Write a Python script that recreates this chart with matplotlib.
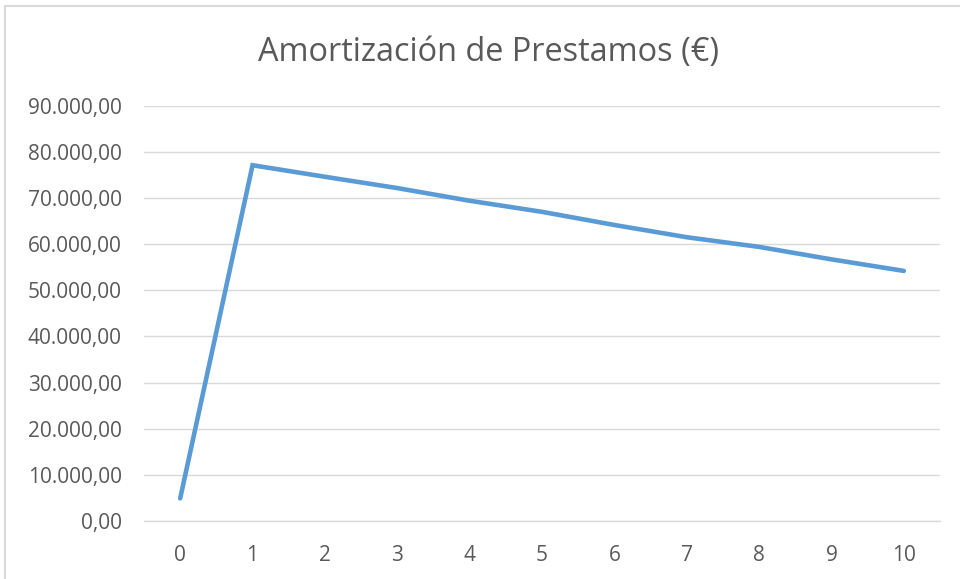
import matplotlib
matplotlib.use("Agg")
import matplotlib.pyplot as plt
from matplotlib.patches import Rectangle
from matplotlib.ticker import FuncFormatter, MultipleLocator

periods = [0, 1, 2, 3, 4, 5, 6, 7, 8, 9, 10]
saldo = [4900, 77100, 74600, 72150, 69400, 67000, 64150, 61500, 59400, 56700, 54200]
title = "Amortización de Prestamos (€)"

plt.rcParams['font.family'] = ['Open Sans', 'DejaVu Sans']

W, H = 960, 579
fig = plt.figure(figsize=(W / 100, H / 100), dpi=100)
fig.patch.set_facecolor("white")

# chart border
fig.add_artist(Rectangle((5 / W, -0.05), 1.1, 1 - 6 / H + 0.05, transform=fig.transFigure,
                         fill=False, edgecolor="#d9d9d9", linewidth=1.5))

ax = fig.add_axes([144 / W, 1 - 521 / H, (940 - 144) / W, (521 - 105.7) / H])
xs = list(range(len(periods)))
ax.plot(xs, saldo, color="#5B9BD5", linewidth=3.3, solid_capstyle="round", solid_joinstyle="miter", zorder=3)
ax.set_xlim(-0.5, len(periods) - 0.5)
ax.set_ylim(0, 90000)
ax.yaxis.set_major_locator(MultipleLocator(10000))

def fmt(v, pos):
    s = f"{v:,.2f}"
    return s.replace(",", "X").replace(".", ",").replace("X", ".")

ax.yaxis.set_major_formatter(FuncFormatter(fmt))
ax.set_xticks(xs)
ax.set_xticklabels([str(p) for p in periods])
ax.grid(axis="y", color="#d9d9d9", linewidth=1)
ax.set_axisbelow(True)
for s in ["top", "right", "left"]:
    ax.spines[s].set_visible(False)
ax.spines["bottom"].set_color("#d9d9d9")
ax.spines["bottom"].set_linewidth(1)
ax.tick_params(axis="both", length=0, labelsize=15, labelcolor="#595959")
ax.tick_params(axis="y", pad=16)
ax.tick_params(axis="x", pad=17)

fig.text(488 / W, 1 - 53 / H, title, ha="center", va="center", fontsize=23.4, color="#595959")

fig.savefig("out.png", dpi=100, facecolor="white")
